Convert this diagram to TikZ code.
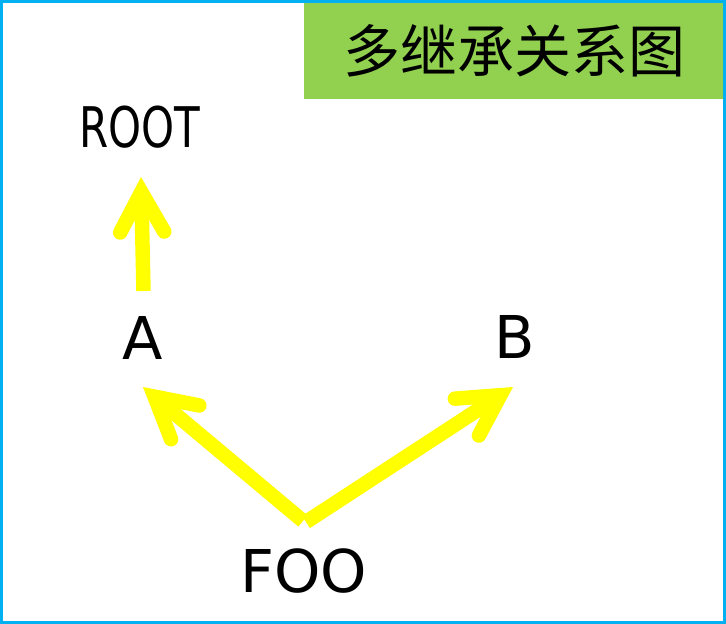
\documentclass[tikz,border=0pt]{standalone}
\usepackage{fontspec}
\setmainfont{DejaVu Sans}
\newfontfamily\cjkfont{Noto Sans CJK SC}
\newfontfamily\rootfont[FakeStretch=0.75]{DejaVu Sans}
\usetikzlibrary{arrows.meta}
\definecolor{frameBlue}{HTML}{00B0F0}
\definecolor{titleGreen}{HTML}{92D050}
\definecolor{arrowYellow}{HTML}{FFFF00}

\begin{document}
\begin{tikzpicture}[
        x=1pt, y=-1pt,
        cls/.style={
                inner sep=0pt,
                font=\fontsize{59}{59}\selectfont
            },
        inherit/.style={
                arrowYellow,
                line width=14.5pt,
                -{Straight Barb[length=40pt, width=44pt, line cap=round, line join=miter]}
            }
    ]
    \useasboundingbox (0,0) rectangle (726,624);
    \fill[white] (0,0) rectangle (726,624);
    \fill[titleGreen] (304,0) rectangle (726,99);
    \draw[frameBlue, line width=3pt] (1.5,1.5) rectangle (724.5,622.5);

    \node[inner sep=0pt, font=\cjkfont\fontsize{57}{57}\selectfont] (title) at (514,51) {多继承关系图};
    \node[cls, font=\rootfont\fontsize{56}{56}\selectfont] (root) at (139.5,127.5) {ROOT};
    \node[cls] (a) at (142.5,337.5) {A};
    \node[cls] (b) at (515,337) {B};
    \node[cls] (foo) at (304,571.5) {FOO};

    \draw[inherit] ([shift={(1,-46.5)}]a.center) -- ([shift={(1.5,49.5)}]root.center);
    \draw[inherit] ([shift={(-1,-50.5)}]foo.center) -- ([shift={(0.5,49.5)}]a.center);
    \draw[inherit] ([shift={(2,-49.5)}]foo.center) -- ([shift={(-2,50)}]b.center);
\end{tikzpicture}
\end{document}
